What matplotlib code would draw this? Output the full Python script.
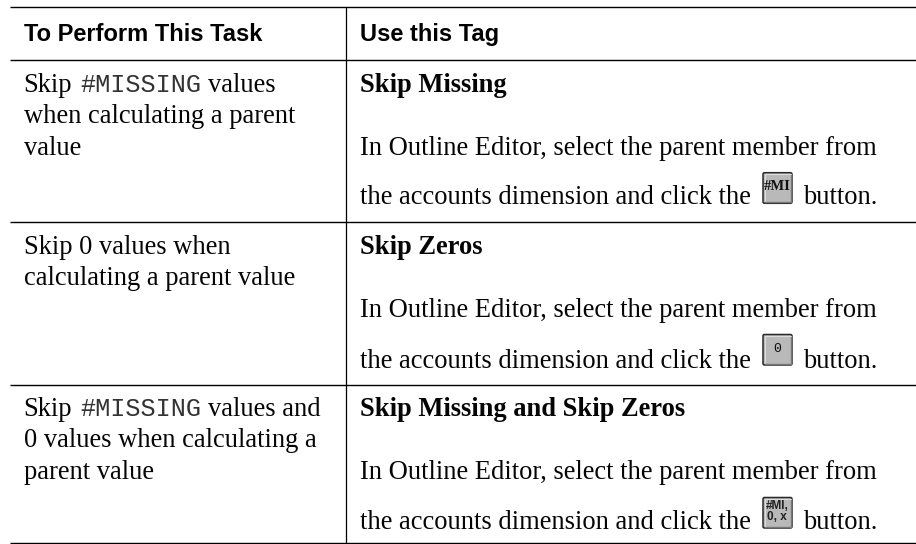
import matplotlib
matplotlib.use("Agg")
import matplotlib.pyplot as plt
from matplotlib.patches import FancyBboxPatch

W, H = 916, 544
SERIF = "Liberation Serif"
SANS = "Liberation Sans"
MONO = "Liberation Mono"

headers = ["To Perform This Task", "Use this Tag"]
tasks = [
    [[("Skip ", SERIF), ("#MISSING", MONO), (" values", SERIF)],
     [("when calculating a parent", SERIF)], [("value", SERIF)]],
    [[("Skip 0 values when", SERIF)], [("calculating a parent value", SERIF)]],
    [[("Skip ", SERIF), ("#MISSING", MONO), (" values and", SERIF)],
     [("0 values when calculating a", SERIF)], [("parent value", SERIF)]],
]
tags = ["Skip Missing", "Skip Zeros", "Skip Missing and Skip Zeros"]
line1 = "In Outline Editor, select the parent member from"
line2a = "the accounts dimension and click the"
line2b = "button."
icons = [["#MI"], ["0"], ["#MI,", "0, x"]]

tag_y = [91.6, 253.6, 415.6]
line1_y = [154.6, 317.0, 479.3]
line2_y = [204.3, 367.6, 529.3]
left_line_h = 31.7
col1_x, col2_x = 24, 360
rules_y = [7, 60, 222, 385, 543]
vline_x = 346
icon_y = [(172.7, 203.3), (334.5, 365), (497.5, 528)]
BODY = 19.1

fig = plt.figure(figsize=(W / 100, H / 100), dpi=100)
ax = fig.add_axes([0, 0, 1, 1])
ax.set_xlim(0, W)
ax.set_ylim(H, 0)
ax.axis("off")
fig.canvas.draw()
r = fig.canvas.get_renderer()


def put(x, y, s, fam, size=BODY, weight="normal", color="#050505"):
    return ax.text(x, y, s, family=fam, fontsize=size, weight=weight,
                   va="baseline", ha="left", color=color)


def run(x, y, parts):
    for s, fam in parts:
        lead = len(s) - len(s.lstrip(" "))
        trail = len(s) - len(s.rstrip(" "))
        sz = 18.2 if fam == MONO else BODY
        col = "#333333" if fam == MONO else "#050505"
        x += 6.6 * lead
        t = put(x, y, s.strip(" "), fam, sz, color=col)
        x += t.get_window_extent(r).width + 8.6 * trail


for y in rules_y:
    ax.plot([10, W], [y, y], color="black", lw=1.0, solid_capstyle="butt")
ax.plot([vline_x, vline_x], [rules_y[0], H], color="black", lw=0.9, solid_capstyle="butt")

put(col1_x, 41.3, headers[0], SANS, 17, "bold", "black")
put(col2_x, 41.3, headers[1], SANS, 17, "bold", "black")

for i, lines in enumerate(tasks):
    for j, parts in enumerate(lines):
        run(col1_x - 0.5, tag_y[i] + j * left_line_h, parts)
    put(col2_x, tag_y[i], tags[i], SERIF, BODY, "bold")
    put(col2_x, line1_y[i], line1, SERIF)
    put(col2_x, line2_y[i], line2a, SERIF)
    put(803, line2_y[i], line2b, SERIF)
    y0, y1 = icon_y[i]
    ax.add_patch(FancyBboxPatch((763, y0), 29, y1 - y0,
                                boxstyle="round,pad=0,rounding_size=1.5",
                                fc="#b9b9b9", ec="#2a2a2a", lw=1.1))
    ax.plot([764.5, 764.5, 790.5], [y1 - 2, y0 + 1.5, y0 + 1.5], color="#dcdcdc", lw=0.8)
    ax.plot([765, 790.7, 790.7], [y1 - 1.5, y1 - 1.5, y0 + 2], color="#777777", lw=1)
    ic = icons[i]
    for k, s in enumerate(ic):
        yc = (y0 + y1) / 2 + (k - (len(ic) - 1) / 2) * 11
        if len(ic) == 1 and s == "0":
            ax.text(777, yc - 0.5, s, family=MONO, fontsize=9.5, ha="center",
                    va="center", color="#111111")
        elif len(ic) == 1:
            ax.text(777, yc - 1, s, family=SERIF, fontsize=10.5, weight="bold",
                    ha="center", va="center", color="#111111")
        else:
            ax.text(777, yc - 1, s, family=SANS, fontsize=8.5, weight="bold",
                    ha="center", va="center", color="#222222")

fig.savefig("out.png", dpi=100)
